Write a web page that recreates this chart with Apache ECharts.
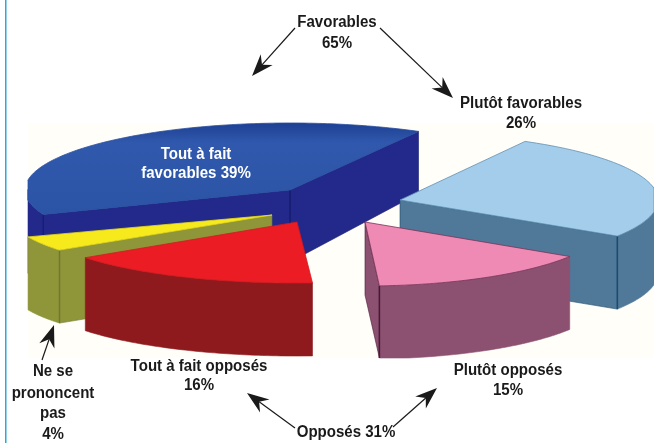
<!DOCTYPE html>
<html>
<head>
<meta charset="utf-8">
<style>
html, body { margin: 0; padding: 0; background: #fff; }
#main { width: 654px; height: 443px; }
</style>
<script src="https://cdn.jsdelivr.net/npm/echarts@6/dist/echarts.min.js"></script>
</head>
<body>
<div id="main"></div>
<script>
// parts of the pie, counter clockwise from the upper right
var sliceNames = ['Tout à fait favorables', 'Ne se prononcent pas', 'Tout à fait opposés', 'Plutôt opposés', 'Plutôt favorables'];
var sliceValues = [39, 4, 16, 15, 26];

var labelLines = [
    ['Favorables', '65%'],
    ['Plutôt favorables', '26%'],
    ['Tout à fait', 'favorables 39%'],
    ['Ne se', 'prononcent', 'pas', '4%'],
    ['Tout à fait opposés', '16%'],
    ['Plutôt opposés', '15%'],
    ['Opposés 31%']
];

// look of each slice, same order as sliceValues
var topColors = ['#2d56a8', '#f6ea1c', '#ec1c24', '#ee8ab4', '#a4cdec'];
var topStrokes = ['#2a4f9f', '#e8dc20', '#d01a22', '#7a3358', '#5f8fae'];
var sideColors = ['#22298a', '#8f9539', '#8e1a1e', '#8c5170', '#507898'];
var edgeColors = ['#171e70', '#6d7830', '#7a1418', '#4a1838', '#1f4a6b'];
var apexX = [290, 272, 297, 365, 400];
var apexY = [190, 215, 222, 222, 200];
var radiusX = [265, 262, 261, 243, 258];
var radiusY = [67, 60, 61, 64, 67];
var drawOrder = [0, 1, 4, 3, 2];

var startAngle = 61;
var boxLeft = 28, boxRight = 654, boxTop = 123, boxBottom = 358;

function depthAt(y) {
    return Math.min(73, 62 + (y - 131) * 0.17);
}
function clampPoint(p) {
    return [Math.max(boxLeft, Math.min(boxRight, p[0])), Math.max(boxTop, Math.min(boxBottom, p[1]))];
}
function rimPoint(i, deg) {
    var t = deg * Math.PI / 180;
    return [apexX[i] + radiusX[i] * Math.cos(t), apexY[i] - radiusY[i] * Math.sin(t)];
}
function drop(p) {
    return [p[0], p[1] + depthAt(p[1])];
}
function poly(points, fill, stroke, width) {
    return {
        type: 'polygon',
        shape: { points: points.map(clampPoint) },
        style: { fill: fill, stroke: stroke || fill, lineWidth: width === undefined ? 0.6 : width }
    };
}
function corner(p, color) {
    var a = clampPoint(p), b = clampPoint(drop(p));
    return { type: 'line', shape: { x1: a[0], y1: a[1], x2: b[0], y2: b[1] }, style: { stroke: color, lineWidth: 1.5 } };
}
function facesViewer(deg) {
    return Math.sin(deg * Math.PI / 180) < 0;
}

var total = sliceValues.reduce(function (a, b) { return a + b; }, 0);

function renderSlice(params, api) {
    var i = api.value(0);
    var before = 0;
    for (var k = 0; k < i; k++) before += sliceValues[k];
    var a0 = startAngle + before / total * 360;
    var a1 = a0 + sliceValues[i] / total * 360;
    var apex = [apexX[i], apexY[i]];
    var kids = [];

    var p0 = rimPoint(i, a0), p1 = rimPoint(i, a1);
    var cut0 = facesViewer(a0 - 90), cut1 = facesViewer(a1 + 90);
    if (cut0) kids.push(poly([apex, p0, drop(p0), drop(apex)], sideColors[i], edgeColors[i]));
    if (cut1) kids.push(poly([apex, p1, drop(p1), drop(apex)], sideColors[i], edgeColors[i]));
    if (cut0 && cut1) kids.push(corner(apex, edgeColors[i]));

    // outer wall, only the part of the rim that faces the viewer
    var top = [], low = [], rim = [apex];
    var steps = Math.ceil(a1 - a0);
    for (var s = 0; s <= steps; s++) {
        var deg = a0 + (a1 - a0) * s / steps;
        var p = rimPoint(i, deg);
        rim.push(p);
        if (Math.sin(deg * Math.PI / 180) < 0.02) {
            top.push(p);
            low.unshift(drop(p));
        }
    }
    if (top.length > 1) {
        kids.push(poly(top.concat(low), sideColors[i], sideColors[i]));
    }
    if (cut0 && facesViewer(a0)) kids.push(corner(p0, edgeColors[i]));
    if (cut1 && facesViewer(a1)) kids.push(corner(p1, edgeColors[i]));

    var fill = topColors[i];
    if (i === 0) {
        fill = new echarts.graphic.LinearGradient(0, 0, 0, 1, [
            { offset: 0, color: '#1d3f92' }, { offset: 0.22, color: '#3059ad' }, { offset: 1, color: '#2b54a6' }
        ]);
    }
    kids.push(poly(rim, fill, topStrokes[i], 0.8));
    return { type: 'group', children: kids };
}

function text(str, x, y, color) {
    return {
        type: 'text', x: x, y: y, z: 20, scaleX: 0.94,
        style: {
            text: str, fill: color || '#1a1a1a', align: 'center', verticalAlign: 'middle',
            font: 'bold 16px "Liberation Sans", sans-serif'
        }
    };
}

function arrow(x1, y1, x2, y2) {
    var len = Math.sqrt((x2 - x1) * (x2 - x1) + (y2 - y1) * (y2 - y1));
    var ux = (x2 - x1) / len, uy = (y2 - y1) / len;
    var head = 22, wide = 8, notch = 15;
    var bx = x2 - ux * head, by = y2 - uy * head;
    var nx = x2 - ux * notch, ny = y2 - uy * notch;
    return [
        { type: 'line', z: 20, shape: { x1: x1, y1: y1, x2: nx, y2: ny }, style: { stroke: '#1a1a1a', lineWidth: 1.2 } },
        { type: 'polygon', z: 20, shape: { points: [[x2, y2], [bx - uy * wide, by + ux * wide], [nx, ny], [bx + uy * wide, by - ux * wide]] }, style: { fill: '#1a1a1a' } }
    ];
}

var elements = [
    { type: 'rect', z: -1, shape: { x: 5, y: 0, width: 1.5, height: 443 }, style: { fill: '#2aa9d8' } },
    { type: 'rect', z: -1, shape: { x: boxLeft, y: boxTop, width: boxRight - boxLeft, height: boxBottom - boxTop }, style: { fill: '#fffef9' } }
];
var labelPos = [
    [[337, 23], [337, 44]],
    [[521, 104], [521, 124]],
    [[196, 155], [196, 174]],
    [[53, 372], [53, 394], [53, 414], [53, 435]],
    [[199, 367], [199, 386]],
    [[508, 371], [508, 391]],
    [[346, 433]]
];
labelLines.forEach(function (lines, n) {
    lines.forEach(function (s, m) {
        elements.push(text(s, labelPos[n][m][0], labelPos[n][m][1], n === 2 ? '#ffffff' : null));
    });
});
elements = elements
    .concat(arrow(295, 28, 252, 76))
    .concat(arrow(380, 28, 453, 98))
    .concat(arrow(42, 360, 54, 325))
    .concat(arrow(295, 428, 247, 393))
    .concat(arrow(393, 427, 437, 388));

var chart = echarts.init(document.getElementById('main'));
chart.setOption({
    backgroundColor: '#ffffff',
    animation: false,
    graphic: { elements: elements },
    series: [{
        type: 'custom',
        coordinateSystem: 'none',
        silent: true,
        z: 5,
        // back slices first, then the front ones
        data: drawOrder.map(function (i) { return { name: sliceNames[i], value: [i, sliceValues[i]] }; }),
        renderItem: renderSlice
    }]
});
</script>
</body>
</html>
